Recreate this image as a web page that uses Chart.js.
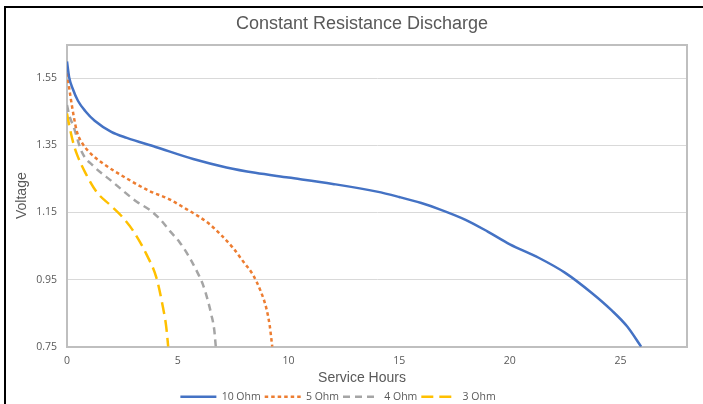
<!DOCTYPE html>
<html><head><meta charset="utf-8">
<script src="https://cdn.jsdelivr.net/npm/chart.js@4/dist/chart.umd.min.js"></script>
<style>
html,body{margin:0;padding:0;background:#fff;overflow:hidden;width:703px;height:404px;}
#wrap{position:absolute;left:0;top:0;width:724px;height:412px;}
</style></head><body>
<div id="wrap"><canvas id="c" width="724" height="412"></canvas></div>
<script>
const seriesNames = ['10 Ohm', '5 Ohm', '4 Ohm', '3 Ohm'];

const hours10 = [0, 0.1, 0.25, 0.5, 0.85, 1.25, 2.0, 2.7, 4.0, 5.7, 7.2, 8.5, 10, 12, 14, 15, 16, 16.8, 18, 19, 20, 21.3, 22.5, 23.7, 24.6, 25.3, 25.93];
const volts10 = [1.60, 1.552, 1.52, 1.482, 1.45, 1.423, 1.39, 1.372, 1.345, 1.309, 1.284, 1.268, 1.254, 1.235, 1.212, 1.196, 1.178, 1.16, 1.128, 1.093, 1.055, 1.015, 0.97, 0.91, 0.858, 0.81, 0.75];

const hours5 = [0, 0.15, 0.3, 0.45, 0.7, 1.0, 1.58, 2.78, 3.75, 4.6, 5.39, 5.9, 6.44, 7.0, 7.49, 8.0, 8.39, 8.75, 9.0, 9.15, 9.27];
const volts5 = [1.565, 1.498, 1.438, 1.39, 1.355, 1.33, 1.298, 1.248, 1.213, 1.19, 1.16, 1.14, 1.115, 1.08, 1.045, 1.0, 0.965, 0.915, 0.865, 0.815, 0.75];

const hours4 = [0, 0.1, 0.3, 0.67, 1.2, 2.02, 3.15, 3.74, 4.2, 4.64, 5.1, 5.54, 5.9, 6.14, 6.35, 6.52, 6.65, 6.72];
const volts4 = [1.47, 1.44, 1.405, 1.33, 1.288, 1.243, 1.182, 1.157, 1.13, 1.095, 1.06, 1.015, 0.97, 0.935, 0.89, 0.845, 0.8, 0.75];

const hours3 = [0, 0.1, 0.3, 0.45, 0.83, 1.35, 1.95, 2.45, 2.99, 3.59, 4.04, 4.34, 4.48, 4.57];
const volts3 = [1.445, 1.41, 1.353, 1.323, 1.268, 1.21, 1.172, 1.14, 1.095, 1.025, 0.955, 0.865, 0.81, 0.75];

const yTickValues = [0.75, 0.95, 1.15, 1.35, 1.55];
const yTickLabels = ['0.75', '0.95', '1.15', '1.35', '1.55'];
const xTickValues = [0, 5, 10, 15, 20, 25];
const xTickLabels = ['0', '5', '10', '15', '20', '25'];

const TXT = '#595959';
const pts = (xs, ys) => xs.map((x, i) => ({x: x, y: ys[i]}));

const framePlugin = {
  id: 'frame',
  beforeDraw(chart) {
    const ctx = chart.ctx;
    ctx.save();
    ctx.fillStyle = '#ffffff';
    ctx.fillRect(0, 0, chart.width, chart.height);
    ctx.fillStyle = '#000000';
    ctx.fillRect(4, 6, chart.width, 2);
    ctx.fillRect(4, 6, 2, chart.height);
    ctx.restore();
  },
  afterLayout(chart) {
    // legend in the reference sits left of the chart's centre
    if (chart.legend) { chart.legend.left -= 24; chart.legend.right -= 24; }
  }
};

const common = {pointRadius: 0, pointHoverRadius: 0, fill: false, cubicInterpolationMode: 'monotone', borderWidth: 2.5};

new Chart(document.getElementById('c'), {
  type: 'line',
  data: {
    datasets: [
      Object.assign({label: seriesNames[0], data: pts(hours10, volts10), borderColor: '#4472C4', backgroundColor: '#4472C4', borderDash: []}, common),
      Object.assign({label: seriesNames[1], data: pts(hours5, volts5), borderColor: '#ED7D31', backgroundColor: '#ED7D31', borderDash: [3.5, 3]}, common),
      Object.assign({label: seriesNames[2], data: pts(hours4, volts4), borderColor: '#A5A5A5', backgroundColor: '#A5A5A5', borderDash: [7, 5]}, common),
      Object.assign({label: seriesNames[3], data: pts(hours3, volts3), borderColor: '#FFC000', backgroundColor: '#FFC000', borderDash: [12, 6]}, common)
    ]
  },
  options: {
    responsive: false,
    animation: false,
    devicePixelRatio: 1,
    layout: {padding: {left: 0, right: 0, top: 0, bottom: 0}},
    plugins: {
      tooltip: {enabled: false},
      title: {
        display: true, text: 'Constant Resistance Discharge', color: TXT,
        font: {family: 'Liberation Sans', size: 18, weight: 'normal'},
        padding: {top: 13, bottom: 10}
      },
      subtitle: {
        display: true, position: 'bottom', text: 'Service Hours', color: TXT, weight: 500,
        font: {family: 'Liberation Sans', size: 14, weight: 'normal'},
        padding: {top: 1, bottom: 1}
      },
      legend: {
        display: true, position: 'bottom', weight: 1000,
        labels: {
          usePointStyle: true, pointStyle: 'line', pointStyleWidth: 36, boxHeight: 10,
          color: TXT, font: {family: 'Open Sans', size: 10.5}, padding: 4,
          generateLabels: chart => {
            const items = Chart.defaults.plugins.legend.labels.generateLabels(chart);
            items.forEach(it => {
              const ds = chart.data.datasets[it.datasetIndex];
              it.lineDash = ds.borderDash;
              it.strokeStyle = ds.borderColor;
              it.fillStyle = ds.borderColor;
              it.lineWidth = ds.borderWidth;
              it.pointStyle = 'line';
            });
            return items;
          }
        }
      }
    },
    scales: {
      x: {
        type: 'linear', min: 0, max: 28,
        afterBuildTicks: s => { s.ticks = xTickValues.map(v => ({value: v})); },
        afterFit: s => { s.height = 22; },
        ticks: {callback: (v, i) => xTickLabels[i], color: TXT, font: {family: 'Open Sans', size: 10.5}, padding: 8, maxRotation: 0, autoSkip: false},
        grid: {display: false, drawTicks: false},
        border: {color: '#BFBFBF', width: 2}
      },
      y: {
        type: 'linear', min: 0.75, max: 1.65,
        afterBuildTicks: s => { s.ticks = yTickValues.concat([1.65]).map(v => ({value: v})); },
        afterFit: s => { s.width = 67; },
        ticks: {callback: (v, i) => (yTickLabels[i] !== undefined ? yTickLabels[i] : ''), color: TXT, font: {family: 'Open Sans', size: 10.5}, padding: 10, autoSkip: false},
        grid: {
          drawTicks: false,
          color: c => (c.tick && c.tick.value === 1.65 ? '#BFBFBF' : '#D9D9D9'),
          lineWidth: c => (c.tick && c.tick.value === 1.65 ? 2 : 1)
        },
        border: {color: '#BFBFBF', width: 2},
        title: {display: true, text: 'Voltage', color: TXT, font: {family: 'Liberation Sans', size: 14, weight: 'normal'}, padding: {top: 14, bottom: 0}}
      },
      y2: {
        type: 'linear', position: 'right', display: true,
        afterFit: s => { s.width = 37; },
        grid: {display: false, drawTicks: false},
        ticks: {display: false},
        border: {display: true, color: '#BFBFBF', width: 2}
      }
    }
  },
  plugins: [framePlugin]
});
</script>
</body></html>
